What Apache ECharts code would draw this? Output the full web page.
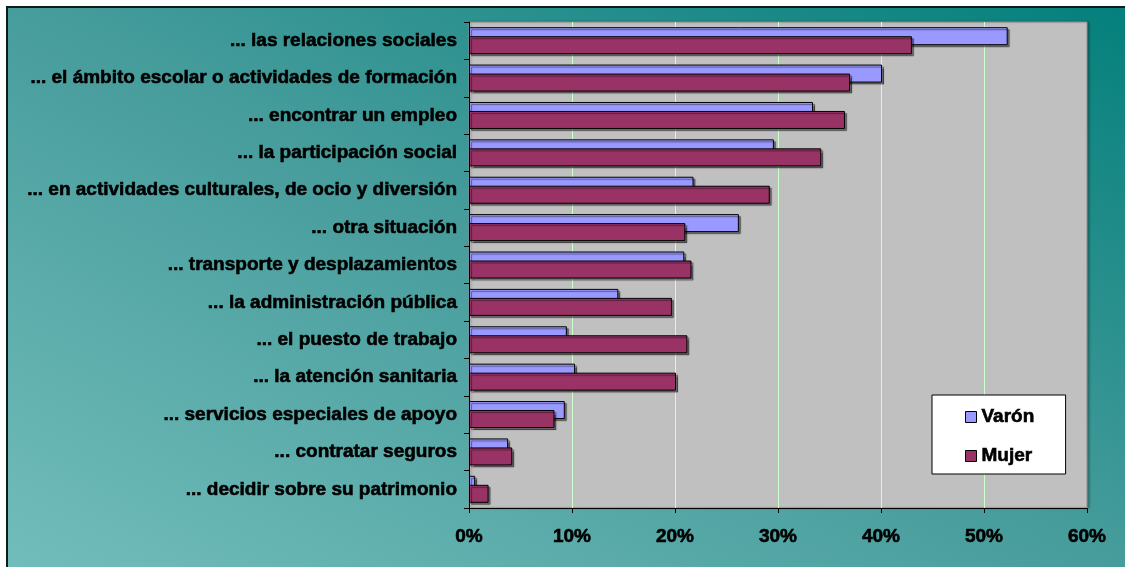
<!DOCTYPE html>
<html>
<head>
<meta charset="utf-8">
<script src="https://cdn.jsdelivr.net/npm/echarts@6/dist/echarts.min.js"></script>
<style>
  html, body { margin: 0; padding: 0; background: #ffffff; }
  #chart { width: 1125px; height: 567px; }
</style>
</head>
<body>
<div id="chart"></div>
<script>
// Ámbitos en los que se sufre discriminación, por sexo (%)
const categories = [
  '... las relaciones sociales',
  '... el ámbito escolar o actividades de formación',
  '... encontrar un empleo',
  '... la participación social',
  '... en actividades culturales, de ocio y diversión',
  '... otra situación',
  '... transporte y desplazamientos',
  '... la administración pública',
  '... el puesto de trabajo',
  '... la atención sanitaria',
  '... servicios especiales de apoyo',
  '... contratar seguros',
  '... decidir sobre su patrimonio'
];
const varon = [52.3, 40.1, 33.4, 29.6, 21.8, 26.2, 20.9, 14.5, 9.5, 10.3, 9.3, 3.8, 0.6];
const mujer = [43.0, 37.0, 36.5, 34.2, 29.2, 21.0, 21.6, 19.7, 21.2, 20.1, 8.3, 4.2, 1.9];
const seriesNames = ['Varón', 'Mujer'];
const axisMax = 60;
const axisStep = 10;

const FONT = '"Liberation Sans", Arial, sans-serif';
const W = 1125, H = 567;

// heavy bold text: a thin outline in the text colour thickens the strokes
const heavyText = {
  fontFamily: FONT,
  fontSize: 19,
  fontWeight: 'bold',
  color: '#000',
  textBorderColor: '#000',
  textBorderWidth: 0.6
};

const chart = echarts.init(document.getElementById('chart'), null, { renderer: 'canvas' });

const barShadow = {
  shadowColor: 'rgba(0,0,0,0.45)',
  shadowBlur: 1,
  shadowOffsetX: 2,
  shadowOffsetY: 2
};

chart.setOption({
  animation: false,
  backgroundColor: '#ffffff',
  graphic: [{
    type: 'rect',
    z: -100,
    silent: true,
    shape: { x: 7, y: 7, width: W + 20, height: H + 20 },
    style: {
      fill: new echarts.graphic.LinearGradient(335, 735, 790, -160, [
        { offset: 0, color: '#72bdbb' },
        { offset: 0.5, color: '#479d9c' },
        { offset: 1, color: '#05807c' }
      ], true),
      stroke: '#0a1c1c',
      lineWidth: 2
    }
  }],
  grid: {
    left: 469,
    right: 38,
    top: 22,
    bottom: 59,
    show: true,
    backgroundColor: '#c0c0c0',
    borderColor: '#8f8f8f',
    borderWidth: 1,
    shadowColor: 'rgba(0,0,0,0.25)',
    shadowBlur: 2,
    shadowOffsetX: 2,
    shadowOffsetY: 0
  },
  legend: {
    orient: 'vertical',
    left: 932,
    top: 395,
    padding: [12, 31, 8, 33],
    itemWidth: 11,
    itemHeight: 11,
    itemGap: 19,
    backgroundColor: '#ffffff',
    borderColor: '#000000',
    borderWidth: 1,
    icon: 'rect',
    itemStyle: { borderColor: '#000', borderWidth: 1, shadowBlur: 0, shadowOffsetX: 0, shadowOffsetY: 0, shadowColor: 'transparent' },
    textStyle: Object.assign({ lineHeight: 20 }, heavyText),
    data: seriesNames
  },
  xAxis: {
    type: 'value',
    min: 0,
    max: axisMax,
    interval: axisStep,
    axisLine: { show: true, lineStyle: { color: '#000', width: 1 } },
    axisTick: { show: true, length: 5, lineStyle: { color: '#000' } },
    axisLabel: Object.assign({ formatter: '{value}%', margin: 19 }, heavyText),
    splitLine: { show: true, showMinLine: false, showMaxLine: false, lineStyle: { color: '#ccffcc', width: 1 } }
  },
  yAxis: {
    type: 'category',
    inverse: true,
    data: categories,
    axisLine: { show: true, lineStyle: { color: '#000', width: 1 } },
    axisTick: { show: true, length: 5, lineStyle: { color: '#000' } },
    axisLabel: Object.assign({ margin: 12, padding: [2, 0, 0, 0] }, heavyText),
    splitLine: { show: false }
  },
  series: [
    {
      name: seriesNames[0],
      type: 'bar',
      data: varon,
      barWidth: 18,
      barGap: '-50%',
      itemStyle: Object.assign({ color: '#9999ff', borderColor: '#000', borderWidth: 1 }, barShadow)
    },
    {
      name: seriesNames[1],
      type: 'bar',
      data: mujer,
      barWidth: 18,
      barGap: '-50%',
      itemStyle: Object.assign({ color: '#993366', borderColor: '#000', borderWidth: 1 }, barShadow)
    }
  ]
});
</script>
</body>
</html>
